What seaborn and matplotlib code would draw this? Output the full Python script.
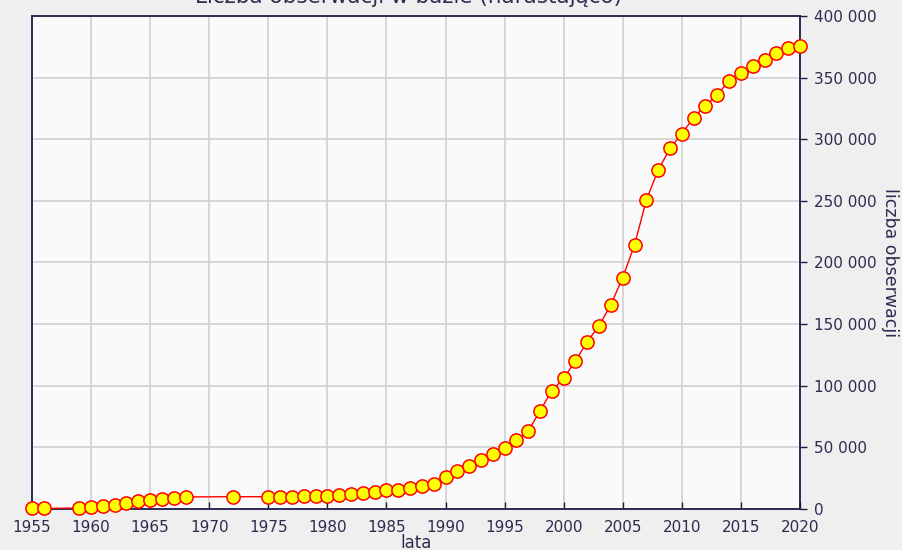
import pandas as pd
import seaborn as sns
import matplotlib.pyplot as plt
from matplotlib.ticker import FuncFormatter, MultipleLocator

# dane
lata = [1955, 1956, 1959, 1960, 1961, 1962, 1963, 1964, 1965, 1966, 1967, 1968,
        1972, 1975, 1976, 1977, 1978, 1979, 1980, 1981, 1982, 1983, 1984, 1985,
        1986, 1987, 1988, 1989, 1990, 1991, 1992, 1993, 1994, 1995, 1996, 1997,
        1998, 1999, 2000, 2001, 2002, 2003, 2004, 2005, 2006, 2007, 2008, 2009,
        2010, 2011, 2012, 2013, 2014, 2015, 2016, 2017, 2018, 2019, 2020]
liczba = [500, 500, 800, 1400, 2200, 3500, 4600, 6500, 7300, 8400, 9200, 9800,
          10000, 10000, 10000, 10100, 10200, 10300, 10800, 11000, 11900, 13000, 14100, 15200,
          15300, 16800, 18400, 20300, 25900, 30700, 34800, 39400, 44900, 49400, 55700, 63300,
          79500, 96100, 105900, 120200, 135800, 148800, 165800, 187800, 214200, 250800, 275000, 292500,
          304500, 317500, 327200, 336000, 347500, 353800, 359200, 364400, 370100, 373600, 375400]

df = pd.DataFrame({'lata': lata, 'liczba': liczba})

sns.set_style('whitegrid')
plt.rcParams['font.family'] = ['DejaVu Sans']

granat = '#1c1c4a'
tekst = '#2c2c50'

fig = plt.figure(figsize=(9.03, 5.50), dpi=100, facecolor='#efefef')
ax = fig.add_axes([0.0354, 0.0745, 0.8505, 0.8965])
ax.set_facecolor('#fafafa')

sns.lineplot(data=df, x='lata', y='liczba', ax=ax, color='red', linewidth=1,
             marker='o', markersize=9.5, markerfacecolor='yellow',
             markeredgecolor='red', markeredgewidth=1.1, clip_on=False, zorder=5)

ax.set_xlim(1955, 2020)
ax.set_ylim(0, 400000)
ax.xaxis.set_major_locator(MultipleLocator(5))
ax.yaxis.set_major_locator(MultipleLocator(50000))
ax.yaxis.set_major_formatter(FuncFormatter(lambda v, p: f'{int(v):,}'.replace(',', ' ')))

ax.yaxis.tick_right()
ax.yaxis.set_label_position('right')
ax.tick_params(axis='y', direction='out', length=5, width=1, color=granat,
               labelcolor=tekst, labelsize=11, pad=5, right=True, left=False)
ax.tick_params(axis='x', direction='in', length=5, width=1, color=granat,
               labelcolor=tekst, labelsize=11, pad=8, bottom=True)

ax.grid(True, color='#cfcfcf', linewidth=1.2)
for s in ax.spines.values():
    s.set_color(granat)
    s.set_linewidth(1.3)

ax.set_xlabel('lata', color=tekst, fontsize=12, labelpad=-1)
ax.set_ylabel('liczba obserwacji', color=tekst, fontsize=12.5, rotation=270, labelpad=16)

fig.text(0.452, 1 - 3 / 550, 'Liczba obserwacji w bazie (narastająco)', ha='center',
         va='baseline', fontsize=15.5, color=tekst)

fig.savefig('out.png', dpi=100, facecolor=fig.get_facecolor())
